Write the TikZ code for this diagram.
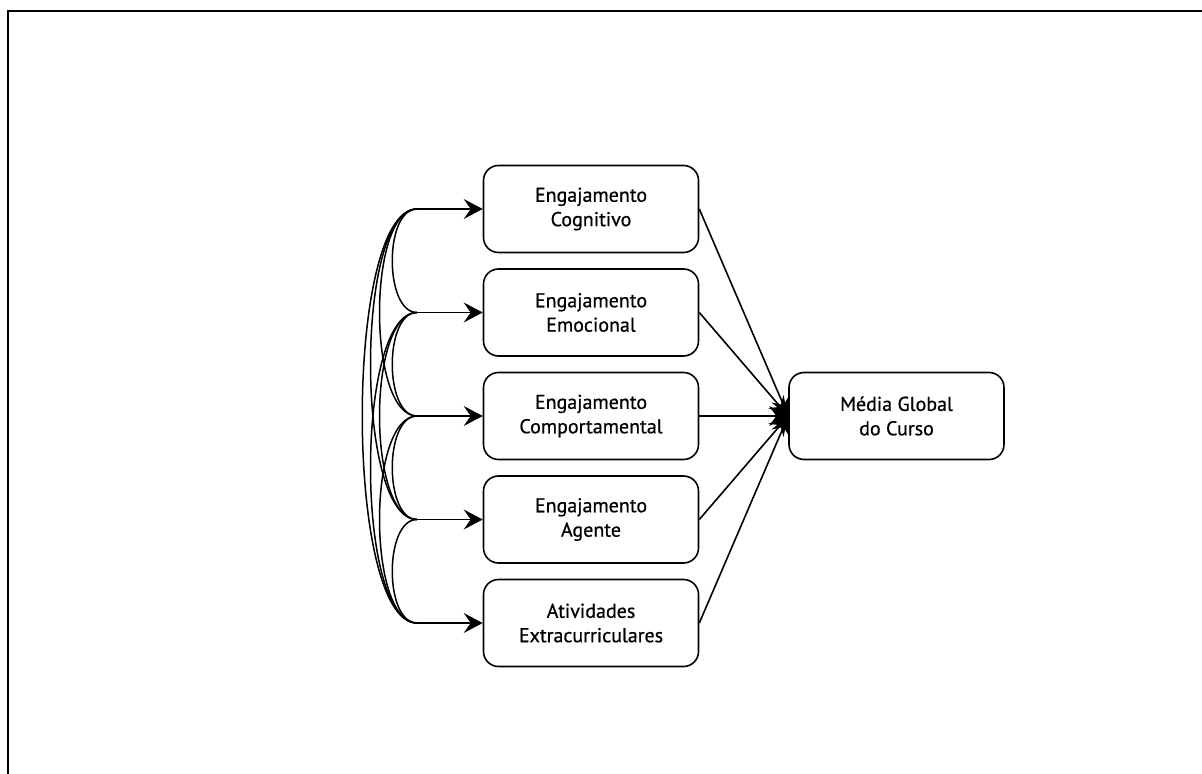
\documentclass[tikz,border=0pt]{standalone}
\usepackage{fontspec}
\setmainfont{PT Sans}
\newfontfamily\boxfont{PT Sans}[FakeBold=0.7]
\usetikzlibrary{arrows.meta}
\begin{document}
\begin{tikzpicture}[x=0.5pt,y=-0.5pt,
  box/.style={draw, line width=0.8pt, rounded corners=7.5pt, minimum width=107.5pt, minimum height=43.5pt, align=center, font=\boxfont\fontsize{10}{12.2}\selectfont, inner sep=0pt},
  conn/.style={line width=0.8pt},
  arr/.style={conn, -{Stealth[length=9.5pt,width=10pt,inset=3.5pt]}},
  corr/.style={line width=0.75pt}]
\useasboundingbox (0,0) rectangle (1202,774);
\draw[line width=1.1pt] (8,774) -- (8,11) -- (1202,11);
\node[box] (b1) at (591,209) {Engajamento\\Cognitivo};
\node[box] (b2) at (591,312.5) {Engajamento\\Emocional};
\node[box] (b3) at (591,416) {Engajamento\\Comportamental};
\node[box] (b4) at (591,519.5) {Engajamento\\Agente};
\node[box] (b5) at (591,623) {Atividades\\Extracurriculares};
\node[box] (m) at (896.5,416) {Média Global\\do Curso};
\foreach \i/\y in {1/209,2/312.5,3/416,4/519.5,5/623} {
  \coordinate (p\i) at (417,\y);
  \draw[arr] (p\i) -- (b\i.west);
  \draw[arr] (b\i.east) -- (m.west);
}
\foreach \i/\j/\k in {1/2/33,2/3/33,3/4/33,4/5/33,1/3/50,2/4/50,3/5/50,1/4/62,2/5/62,1/5/73} {
  \draw[corr] (p\i) .. controls +(-\k,0) and +(-\k,0) .. (p\j);
}
\end{tikzpicture}
\end{document}
